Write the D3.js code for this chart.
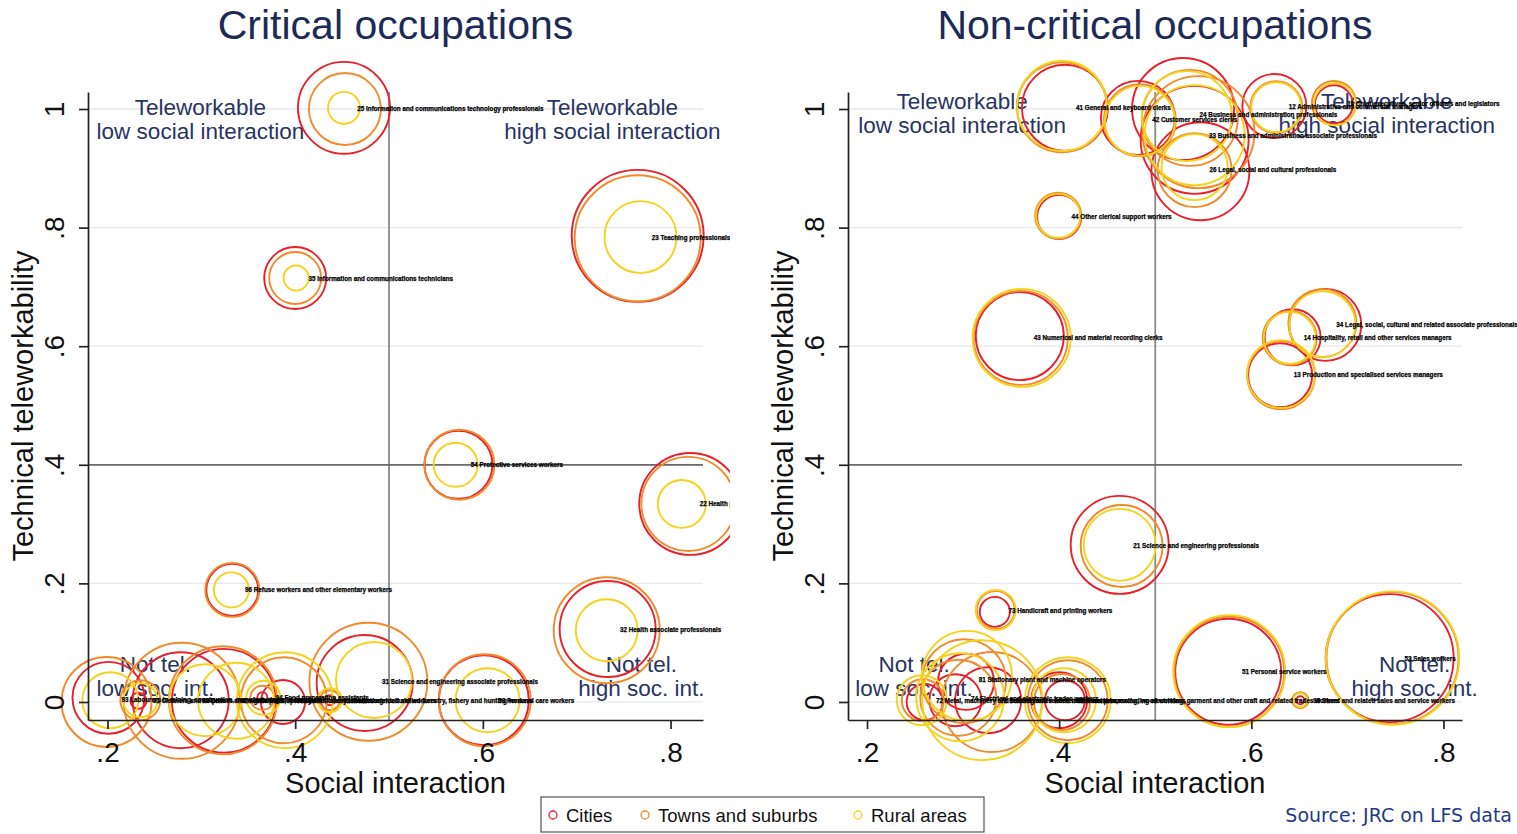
<!DOCTYPE html>
<html><head><meta charset="utf-8">
<script src="https://cdn.jsdelivr.net/npm/d3@7"></script>
<style>html,body{margin:0;padding:0;background:#fff;}svg{display:block;}</style>
</head><body>
<svg id="chart" width="1517" height="834"></svg>
<script>
// ---------- data ----------
const seriesNames = ["Cities", "Towns and suburbs", "Rural areas"];
const xTicks = [0.2, 0.4, 0.6, 0.8];
const xTickLabels = [".2", ".4", ".6", ".8"];
const yTicks = [0, 0.2, 0.4, 0.6, 0.8, 1];
const yTickLabels = ["0", ".2", ".4", ".6", ".8", "1"];

// [social interaction, technical teleworkability, employment weight]
const critLabels = [
  "25 Information and communications technology professionals",
  "35 Information and communications technicians",
  "23 Teaching professionals",
  "22 Health professionals",
  "54 Protective services workers",
  "96 Refuse workers and other elementary workers",
  "32 Health associate professionals",
  "31 Science and engineering associate professionals",
  "53 Personal care workers",
  "93 Labourers in mining, construction, manufacturing and transport",
  "91 Cleaners and helpers",
  "83 Drivers and mobile plant operators",
  "92 Agricultural, forestry and fishery labourers",
  "94 Food preparation assistants",
  "61 Market-oriented skilled agricultural workers",
  "62 Market-oriented skilled forestry, fishery and hunting workers"
];
const critCities = [
  [0.452,1.002,84.6],[0.400,0.715,38.4],[0.765,0.786,174.2],[0.821,0.334,104.0],
  [0.574,0.400,46.2],[0.333,0.189,27.0],[0.733,0.123,92.2],[0.474,0.032,92.2],
  [0.601,0.003,81.0],[0.201,0.007,51.8],[0.233,0.002,2.6],[0.278,0.003,92.2],
  [0.324,0.002,108.0],[0.365,0.008,1.0],[0.387,0.000,19.4],[0.437,0.003,1.0]
];
const critTowns = [
  [0.453,1.000,51.8],[0.400,0.715,27.0],[0.765,0.782,158.8],[0.819,0.334,88.4],
  [0.575,0.400,49.0],[0.333,0.189,29.2],[0.732,0.121,112.4],[0.478,0.034,139.2],
  [0.602,0.003,84.6],[0.199,0.000,81.0],[0.235,0.003,16.0],[0.279,0.002,134.6],
  [0.323,0.003,116.6],[0.365,0.007,5.8],[0.388,0.003,74.0],[0.437,0.003,4.0]
];
const critRural = [
  [0.452,1.002,10.2],[0.401,0.715,6.3],[0.768,0.784,51.8],[0.812,0.334,23.0],
  [0.571,0.400,19.4],[0.332,0.189,12.3],[0.732,0.121,38.4],[0.484,0.037,57.8],
  [0.605,0.003,41.0],[0.203,0.003,31.4],[0.235,0.003,11.6],[0.304,0.003,51.8],
  [0.337,0.002,57.8],[0.366,0.007,11.6],[0.389,0.003,92.2],[0.437,0.003,5.8]
];

const nonCritLabels = [
  "41 General and keyboard clerks",
  "42 Customer services clerks",
  "24 Business and administration professionals",
  "33 Business and administration associate professionals",
  "26 Legal, social and cultural professionals",
  "12 Administrative and commercial managers",
  "11 Chief executives, senior officials and legislators",
  "44 Other clerical support workers",
  "43 Numerical and material recording clerks",
  "34 Legal, social, cultural and related associate professionals",
  "14 Hospitality, retail and other services managers",
  "13 Production and specialised services managers",
  "21 Science and engineering professionals",
  "73 Handicraft and printing workers",
  "51 Personal service workers",
  "52 Sales workers",
  "95 Street and related sales and service workers",
  "75 Food processing, wood working, garment and other craft and related trades workers",
  "82 Assemblers",
  "81 Stationary plant and machine operators",
  "71 Building and related trades workers, excluding electricians",
  "72 Metal, machinery and related trades workers",
  "74 Electrical and electronic trades workers"
];
const nonCritCities = [
  [0.406,1.002,74.0],[0.482,0.985,54.8],[0.529,1.000,104.0],[0.541,0.948,116.6],
  [0.547,0.895,96.0],[0.624,1.005,41.0],[0.686,1.008,14.4],[0.400,0.818,19.4],
  [0.359,0.617,77.4],[0.677,0.636,51.8],[0.643,0.615,31.4],[0.630,0.551,41.0],
  [0.463,0.265,96.0],[0.333,0.152,9.0],[0.576,0.051,112.4],[0.744,0.074,163.8],
  [0.651,0.003,0.64],[0.400,0.003,31.4],[0.406,0.003,16.0],[0.303,0.034,31.4],
  [0.326,0.003,43.6],[0.260,0.000,13.0],[0.292,0.003,27.0]
];
const nonCritTowns = [
  [0.403,1.003,81.0],[0.484,0.981,51.8],[0.536,0.985,92.2],[0.545,0.961,125.4],
  [0.541,0.897,54.8],[0.626,1.003,27.0],[0.686,1.010,19.4],[0.399,0.820,21.2],
  [0.360,0.614,88.4],[0.674,0.639,46.2],[0.640,0.614,29.2],[0.631,0.551,46.2],
  [0.465,0.263,67.2],[0.334,0.155,14.4],[0.577,0.051,121.0],[0.747,0.074,174.2],
  [0.651,0.003,2.6],[0.409,0.003,64.0],[0.403,0.000,31.4],[0.301,0.035,70.6],
  [0.330,0.000,100.0],[0.258,0.003,17.6],[0.295,0.007,57.8]
];
const nonCritRural = [
  [0.403,1.005,81.0],[0.484,0.980,49.0],[0.533,0.988,81.0],[0.541,0.956,100.0],
  [0.541,0.902,43.6],[0.626,1.003,25.0],[0.687,1.008,17.6],[0.399,0.820,19.4],
  [0.361,0.614,96.0],[0.674,0.637,43.6],[0.640,0.614,27.0],[0.631,0.553,46.2],
  [0.463,0.265,51.8],[0.334,0.155,16.0],[0.577,0.052,125.4],[0.747,0.074,178.0],
  [0.651,0.003,2.0],[0.409,0.003,74.0],[0.405,0.003,41.0],[0.304,0.044,81.0],
  [0.320,0.003,144.0],[0.257,0.003,25.0],[0.297,0.008,77.4]
];

// ---------- drawing ----------
const FONT = "'Liberation Sans', Arial, Helvetica, sans-serif";
const colors = ["#e8202b", "#f28a2c", "#f5d31c"];
const svg = d3.select("#chart");
const size = d3.scaleSqrt().domain([0, 100]).range([0, 50]);
const yScaleDomain = [-0.0304, 1.0287];
const plotTop = 92, plotBottom = 720;

svg.append("defs").append("clipPath").attr("id", "clipLeft")
  .append("rect").attr("x", 0).attr("y", 0).attr("width", 730).attr("height", 834);

function drawPanel(cfg) {
  const g = svg.append("g");
  const x = d3.scaleLinear().domain(cfg.xDomain).range(cfg.xRange);
  const y = d3.scaleLinear().domain(yScaleDomain).range([plotBottom, plotTop]);
  const [x0, x1] = cfg.xRange;

  // title
  g.append("text").attr("x", (x0 + x1) / 2).attr("y", 39)
    .attr("text-anchor", "middle").attr("font-family", FONT).attr("font-size", 41)
    .attr("fill", "#1d2a57").text(cfg.title);

  // grid
  g.append("g").selectAll("line").data(yTicks).join("line")
    .attr("x1", x0).attr("x2", x1).attr("y1", d => y(d)).attr("y2", d => y(d))
    .attr("stroke", "#e6e9ec").attr("stroke-width", 1.3);

  // reference lines
  g.append("line").attr("x1", x(0.5)).attr("x2", x(0.5)).attr("y1", plotTop).attr("y2", plotBottom)
    .attr("stroke", "#8a8a8a").attr("stroke-width", 1.8);
  g.append("line").attr("x1", x0).attr("x2", x1).attr("y1", y(0.4)).attr("y2", y(0.4))
    .attr("stroke", "#6a6a6a").attr("stroke-width", 1.8);

  // quadrant labels
  const q = g.append("g").attr("font-family", FONT).attr("font-size", 22.5).attr("fill", "#283463")
    .attr("text-anchor", "middle");
  cfg.quad.forEach(t => {
    t.lines.forEach((ln, i) => {
      q.append("text").attr("x", x(t.x)).attr("y", y(t.y) + i * 24).text(ln);
    });
  });

  // bubbles
  const marks = g.append("g");
  if (cfg.clip) marks.attr("clip-path", "url(#clipLeft)");
  cfg.series.forEach((ser, si) => {
    marks.append("g").selectAll("circle").data(ser).join("circle")
      .attr("cx", d => x(d[0])).attr("cy", d => y(d[1])).attr("r", d => size(d[2]))
      .attr("fill", "none").attr("stroke", colors[si]).attr("stroke-width", 1.9);
  });
  // occupation labels
  marks.append("g").selectAll("text").data(cfg.labels).join("text")
    .attr("x", (d, i) => d3.mean(cfg.series, s => x(s[i][0])) + 13)
    .attr("y", (d, i) => d3.mean(cfg.series, s => y(s[i][1])) + 2.5)
    .attr("font-family", FONT).attr("font-size", 6.3).attr("font-weight", "bold")
    .attr("fill", "#000").attr("stroke", "#000").attr("stroke-width", 0.25)
    .text(d => d);

  // x axis
  const xa = g.append("g").attr("transform", `translate(0,${plotBottom})`)
    .call(d3.axisBottom(x).tickValues(xTicks).tickFormat((d, i) => xTickLabels[i]).tickSize(9).tickSizeOuter(0));
  xa.select(".domain").attr("stroke", "#222").attr("stroke-width", 1.7);
  xa.selectAll(".tick line").attr("stroke", "#222").attr("stroke-width", 1.7);
  xa.selectAll(".tick text").attr("y", 42).attr("dy", null)
    .attr("font-family", FONT).attr("font-size", 28).attr("fill", "#111");

  // y axis
  const ya = g.append("g").attr("transform", `translate(${x0},0)`)
    .call(d3.axisLeft(y).tickValues(yTicks).tickFormat((d, i) => yTickLabels[i]).tickSize(9).tickSizeOuter(0));
  ya.select(".domain").attr("stroke", "#222").attr("stroke-width", 1.7);
  ya.selectAll(".tick line").attr("stroke", "#222").attr("stroke-width", 1.7);
  ya.selectAll(".tick text").attr("x", 0).attr("dy", null).attr("text-anchor", "middle")
    .attr("transform", "translate(-24,0) rotate(-90)")
    .attr("font-family", FONT).attr("font-size", 28).attr("fill", "#111");

  // axis titles
  g.append("text").attr("x", (x0 + x1) / 2).attr("y", 793).attr("text-anchor", "middle")
    .attr("font-family", FONT).attr("font-size", 29).attr("fill", "#111").text("Social interaction");
  g.append("text").attr("transform", `translate(${x0 - 55},406) rotate(-90)`).attr("text-anchor", "middle")
    .attr("font-family", FONT).attr("font-size", 29).attr("fill", "#111").text("Technical teleworkability");
}

drawPanel({
  title: "Critical occupations",
  xDomain: [0.1792, 0.8346], xRange: [88, 703], clip: true,
  series: [critCities, critTowns, critRural], labels: critLabels,
  quad: [
    {x: 0.299, y: 0.990, lines: ["Teleworkable", "low social interaction"]},
    {x: 0.738, y: 0.990, lines: ["Teleworkable", "high social interaction"]},
    {x: 0.251, y: 0.051, lines: ["Not tel.", "low soc. int."]},
    {x: 0.769, y: 0.051, lines: ["Not tel.", "high soc. int."]}
  ]
});
drawPanel({
  title: "Non-critical occupations",
  xDomain: [0.1802, 0.8193], xRange: [848, 1462], clip: false,
  series: [nonCritCities, nonCritTowns, nonCritRural], labels: nonCritLabels,
  quad: [
    {x: 0.299, y: 1.000, lines: ["Teleworkable", "low social interaction"]},
    {x: 0.741, y: 1.000, lines: ["Teleworkable", "high social interaction"]},
    {x: 0.249, y: 0.051, lines: ["Not tel.", "low soc. int."]},
    {x: 0.770, y: 0.051, lines: ["Not tel.", "high soc. int."]}
  ]
});

// legend
const lg = svg.append("g");
lg.append("rect").attr("x", 541).attr("y", 797).attr("width", 443).attr("height", 35)
  .attr("fill", "#fff").attr("stroke", "#555").attr("stroke-width", 1.2);
const legX = d3.scaleOrdinal().domain(seriesNames).range([553, 645, 858]);
seriesNames.forEach((n, i) => {
  lg.append("circle").attr("cx", legX(n)).attr("cy", 815).attr("r", 4)
    .attr("fill", "none").attr("stroke", colors[i]).attr("stroke-width", 1.3);
  lg.append("text").attr("x", legX(n) + 13).attr("y", 821.5)
    .attr("font-family", FONT).attr("font-size", 18.5).attr("fill", "#111").text(n);
});

// source
svg.append("text").attr("x", 1512).attr("y", 822).attr("text-anchor", "end")
  .attr("font-family", "'DejaVu Sans', Verdana, sans-serif").attr("font-size", 19)
  .attr("fill", "#1f3a8a").text("Source: JRC on LFS data");
</script>
</body></html>
